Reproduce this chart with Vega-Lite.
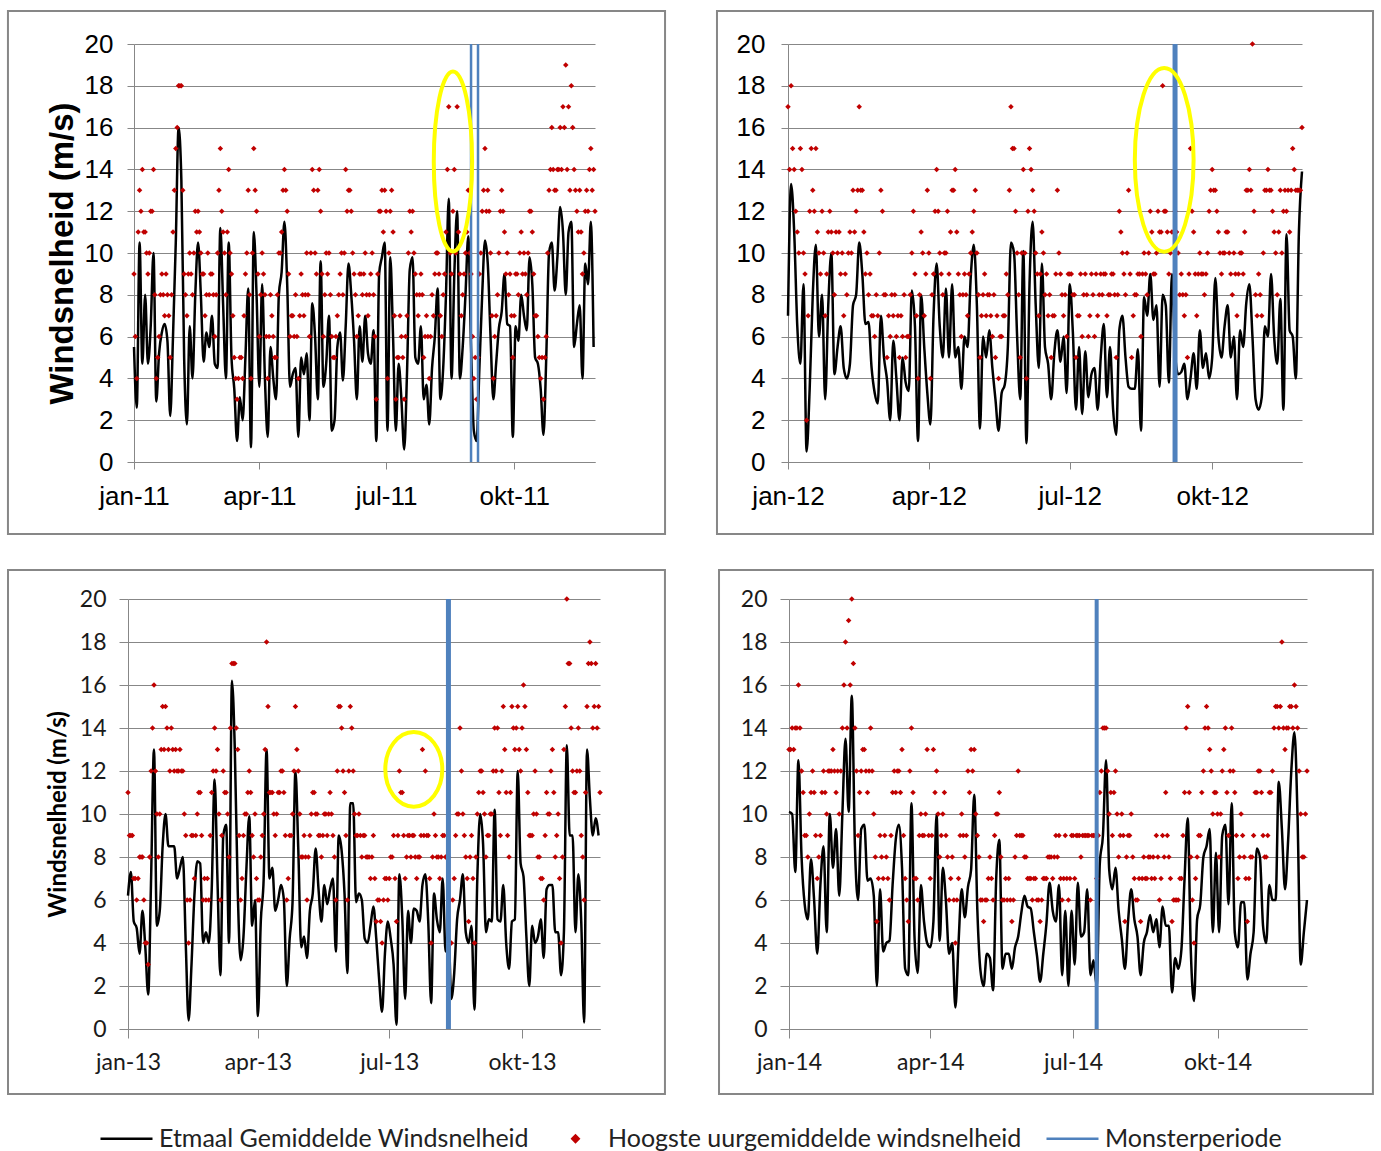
{
"$schema":"https://vega.github.io/schema/vega-lite/v6.json",
"background":"white",
"padding":{"left":6,"top":9,"right":8,"bottom":2},
"bounds":"flush",
"columns":2,
"spacing":{"row":137,"column":188},
"resolve":{"scale":{"color":"shared"},"legend":{"color":"shared"}},
"config":{"view":{"stroke":null},"axis":{"domainColor":"#878787","tickColor":"#878787","gridColor":"#878787","gridWidth":1,"domainWidth":1,"tickWidth":1},"legend":{"layout":{"bottom":{"anchor":"middle"}}}},
"datasets":{
"y2011":[
{"d":"2011-01-01","w":5.5,"h":9},{"d":"2011-01-03","w":2.6,"h":4},{"d":"2011-01-05","w":10.5,"h":13},{"d":"2011-01-07","w":4.7,"h":14},{"d":"2011-01-09","w":8,"h":11},{"d":"2011-01-11","w":4.7,"h":9},{"d":"2011-01-13","w":6.5,"h":12},{"d":"2011-01-15","w":10,"h":14},{"d":"2011-01-17","w":2.9,"h":4},{"d":"2011-01-19","w":5.2,"h":6},{"d":"2011-01-21","w":6.2,"h":9},{"d":"2011-01-23","w":6.6,"h":7},{"d":"2011-01-25","w":5.8,"h":8},{"d":"2011-01-27","w":2.2,"h":5},{"d":"2011-01-29","w":6,"h":11},{"d":"2011-01-31","w":10.5,"h":15},
{"d":"2011-02-02","w":16,"h":18},{"d":"2011-02-04","w":13.5,"h":18},{"d":"2011-02-06","w":5,"h":9},{"d":"2011-02-08","w":1.8,"h":7},{"d":"2011-02-10","w":6.5,"h":10},{"d":"2011-02-12","w":4,"h":8},{"d":"2011-02-14","w":8,"h":12},{"d":"2011-02-16","w":10.5,"h":12},{"d":"2011-02-18","w":8,"h":10},{"d":"2011-02-20","w":4.8,"h":9},{"d":"2011-02-22","w":6.2,"h":8},{"d":"2011-02-24","w":5.5,"h":8},{"d":"2011-02-26","w":7,"h":9},{"d":"2011-02-28","w":4.7,"h":6},
{"d":"2011-03-02","w":4.5,"h":10},{"d":"2011-03-04","w":11.2,"h":15},{"d":"2011-03-06","w":7.5,"h":11},{"d":"2011-03-08","w":4,"h":8},{"d":"2011-03-10","w":10.5,"h":14},{"d":"2011-03-12","w":5,"h":9},{"d":"2011-03-14","w":3.5,"h":5},{"d":"2011-03-16","w":1,"h":3},{"d":"2011-03-18","w":3.1,"h":5},{"d":"2011-03-20","w":2,"h":4},{"d":"2011-03-22","w":5,"h":9},{"d":"2011-03-24","w":8.3,"h":13},{"d":"2011-03-26","w":0.7,"h":4},{"d":"2011-03-28","w":11,"h":15},{"d":"2011-03-30","w":8,"h":12},
{"d":"2011-04-01","w":3.6,"h":6},{"d":"2011-04-03","w":8.5,"h":10},{"d":"2011-04-05","w":4,"h":8},{"d":"2011-04-07","w":1.2,"h":4},{"d":"2011-04-09","w":5.5,"h":8},{"d":"2011-04-11","w":4,"h":6},{"d":"2011-04-13","w":3,"h":5},{"d":"2011-04-15","w":8,"h":10},{"d":"2011-04-17","w":9.1,"h":11},{"d":"2011-04-19","w":11.5,"h":14},{"d":"2011-04-21","w":8.5,"h":12},{"d":"2011-04-23","w":3.6,"h":6},{"d":"2011-04-25","w":4.2,"h":7},{"d":"2011-04-27","w":4.5,"h":8},{"d":"2011-04-29","w":1.2,"h":4},
{"d":"2011-05-01","w":5,"h":9},{"d":"2011-05-03","w":4.2,"h":7},{"d":"2011-05-05","w":5.2,"h":10},{"d":"2011-05-07","w":2,"h":6},{"d":"2011-05-09","w":7.6,"h":14},{"d":"2011-05-11","w":6,"h":10},{"d":"2011-05-13","w":3,"h":13},{"d":"2011-05-15","w":9.6,"h":12},{"d":"2011-05-17","w":3.6,"h":6},{"d":"2011-05-19","w":4.7,"h":10},{"d":"2011-05-21","w":7,"h":10},{"d":"2011-05-23","w":1.5,"h":6},{"d":"2011-05-25","w":2,"h":5},{"d":"2011-05-27","w":5.5,"h":7},{"d":"2011-05-29","w":6.2,"h":9},{"d":"2011-05-31","w":3.9,"h":8},
{"d":"2011-06-02","w":6.5,"h":14},{"d":"2011-06-04","w":9.5,"h":13},{"d":"2011-06-06","w":8,"h":12},{"d":"2011-06-08","w":5.8,"h":9},{"d":"2011-06-10","w":3,"h":6},{"d":"2011-06-12","w":6.5,"h":9},{"d":"2011-06-14","w":4.8,"h":8},{"d":"2011-06-16","w":7,"h":10},{"d":"2011-06-18","w":5.2,"h":7},{"d":"2011-06-20","w":4.7,"h":9},{"d":"2011-06-22","w":6.3,"h":8},{"d":"2011-06-24","w":1,"h":3},{"d":"2011-06-26","w":9,"h":12},{"d":"2011-06-28","w":9.8,"h":13},{"d":"2011-06-30","w":10.5,"h":13},
{"d":"2011-07-02","w":1.5,"h":4},{"d":"2011-07-04","w":9.8,"h":12},{"d":"2011-07-06","w":6,"h":11},{"d":"2011-07-08","w":1.5,"h":3},{"d":"2011-07-10","w":4.7,"h":5},{"d":"2011-07-12","w":3,"h":6},{"d":"2011-07-14","w":0.6,"h":3},{"d":"2011-07-16","w":4.2,"h":7},{"d":"2011-07-18","w":9.2,"h":12},{"d":"2011-07-20","w":9.8,"h":12},{"d":"2011-07-22","w":5,"h":9},{"d":"2011-07-24","w":4.7,"h":7},{"d":"2011-07-26","w":6.5,"h":9},{"d":"2011-07-28","w":3,"h":5},{"d":"2011-07-30","w":3.7,"h":7},
{"d":"2011-08-01","w":1.8,"h":4},{"d":"2011-08-03","w":4.5,"h":8},{"d":"2011-08-05","w":6,"h":9},{"d":"2011-08-07","w":8.3,"h":10},{"d":"2011-08-09","w":3,"h":7},{"d":"2011-08-11","w":4.5,"h":8},{"d":"2011-08-13","w":8,"h":11},{"d":"2011-08-15","w":12.6,"h":17},{"d":"2011-08-17","w":4,"h":9},{"d":"2011-08-19","w":9,"h":14},{"d":"2011-08-21","w":12,"h":17},{"d":"2011-08-23","w":4,"h":9},{"d":"2011-08-25","w":5.5,"h":8},{"d":"2011-08-27","w":8,"h":10},{"d":"2011-08-29","w":10.8,"h":13},{"d":"2011-08-31","w":5.5,"h":9},
{"d":"2011-09-02","w":1.5,"h":4},{"d":"2011-09-04","w":1,"h":3},{"d":"2011-09-06","w":4.5,"h":9},{"d":"2011-09-08","w":8,"h":12},{"d":"2011-09-10","w":10.6,"h":15},{"d":"2011-09-12","w":9.5,"h":13},{"d":"2011-09-14","w":6,"h":10},{"d":"2011-09-16","w":3,"h":4},{"d":"2011-09-18","w":4.7,"h":7},{"d":"2011-09-20","w":6.4,"h":10},{"d":"2011-09-22","w":7.2,"h":13},{"d":"2011-09-24","w":9,"h":11},{"d":"2011-09-26","w":6.6,"h":10},{"d":"2011-09-28","w":6.5,"h":9},{"d":"2011-09-30","w":1.2,"h":5},
{"d":"2011-10-02","w":6.5,"h":9},{"d":"2011-10-04","w":5.8,"h":8},{"d":"2011-10-06","w":8,"h":11},{"d":"2011-10-08","w":7,"h":10},{"d":"2011-10-10","w":6.3,"h":8},{"d":"2011-10-12","w":9.8,"h":12},{"d":"2011-10-14","w":8.5,"h":11},{"d":"2011-10-16","w":5,"h":7},{"d":"2011-10-18","w":4.7,"h":6},{"d":"2011-10-20","w":3.5,"h":4},{"d":"2011-10-22","w":1.3,"h":3},{"d":"2011-10-24","w":5,"h":6},{"d":"2011-10-26","w":10,"h":13},{"d":"2011-10-28","w":10.5,"h":16},{"d":"2011-10-30","w":8.2,"h":13},
{"d":"2011-11-01","w":9.8,"h":14},{"d":"2011-11-03","w":12.2,"h":16},{"d":"2011-11-05","w":11,"h":17},{"d":"2011-11-07","w":8,"h":19},{"d":"2011-11-09","w":11,"h":17},{"d":"2011-11-11","w":11.5,"h":18},{"d":"2011-11-13","w":5.5,"h":14},{"d":"2011-11-15","w":6.6,"h":12},{"d":"2011-11-17","w":7.5,"h":13},{"d":"2011-11-19","w":4,"h":9},{"d":"2011-11-21","w":9.5,"h":12},{"d":"2011-11-23","w":8.5,"h":12},{"d":"2011-11-25","w":11.5,"h":15},{"d":"2011-11-27","w":5.5,"h":14}
],
"x2011":[
{"d":"2011-01-02","h":6},{"d":"2011-01-04","h":11},{"d":"2011-01-06","h":12},{"d":"2011-01-08","h":11},{"d":"2011-01-10","h":10},{"d":"2011-01-12","h":10},{"d":"2011-01-14","h":12},{"d":"2011-01-16","h":8},{"d":"2011-01-18","h":5},{"d":"2011-01-20","h":8},{"d":"2011-01-22","h":8},{"d":"2011-01-24","h":9},{"d":"2011-01-26","h":7},{"d":"2011-01-28","h":8},{"d":"2011-01-30","h":13},
{"d":"2011-02-01","h":16},{"d":"2011-02-03","h":18},{"d":"2011-02-05","h":13},{"d":"2011-02-07","h":8},{"d":"2011-02-09","h":9},{"d":"2011-02-11","h":9},{"d":"2011-02-13","h":10},{"d":"2011-02-15","h":11},{"d":"2011-02-17","h":11},{"d":"2011-02-19","h":9},{"d":"2011-02-21","h":7},{"d":"2011-02-23","h":10},{"d":"2011-02-25","h":9},{"d":"2011-02-27","h":8},
{"d":"2011-03-01","h":8},{"d":"2011-03-03","h":13},{"d":"2011-03-05","h":12},{"d":"2011-03-07","h":10},{"d":"2011-03-09","h":11},{"d":"2011-03-11","h":10},{"d":"2011-03-13","h":7},{"d":"2011-03-15","h":4},{"d":"2011-03-17","h":4},{"d":"2011-03-19","h":5},{"d":"2011-03-21","h":7},{"d":"2011-03-23","h":10},{"d":"2011-03-25","h":8},{"d":"2011-03-27","h":10},{"d":"2011-03-29","h":13},{"d":"2011-03-31","h":9},
{"d":"2011-04-02","h":8},{"d":"2011-04-04","h":9},{"d":"2011-04-06","h":6},{"d":"2011-04-08","h":6},{"d":"2011-04-10","h":7},{"d":"2011-04-12","h":5},{"d":"2011-04-14","h":8},{"d":"2011-04-16","h":10},{"d":"2011-04-18","h":13},{"d":"2011-04-20","h":13},{"d":"2011-04-22","h":9},{"d":"2011-04-24","h":7},{"d":"2011-04-26","h":6},{"d":"2011-04-28","h":6},{"d":"2011-04-30","h":7},
{"d":"2011-05-02","h":8},{"d":"2011-05-04","h":8},{"d":"2011-05-06","h":8},{"d":"2011-05-08","h":10},{"d":"2011-05-10","h":13},{"d":"2011-05-12","h":9},{"d":"2011-05-14","h":14},{"d":"2011-05-16","h":9},{"d":"2011-05-18","h":8},{"d":"2011-05-20","h":9},{"d":"2011-05-22","h":8},{"d":"2011-05-24","h":5},{"d":"2011-05-26","h":6},{"d":"2011-05-28","h":8},{"d":"2011-05-30","h":10},
{"d":"2011-06-01","h":10},{"d":"2011-06-03","h":12},{"d":"2011-06-05","h":13},{"d":"2011-06-07","h":10},{"d":"2011-06-09","h":8},{"d":"2011-06-11","h":7},{"d":"2011-06-13","h":9},{"d":"2011-06-15","h":9},{"d":"2011-06-17","h":8},{"d":"2011-06-19","h":8},{"d":"2011-06-21","h":10},{"d":"2011-06-23","h":6},{"d":"2011-06-25","h":9},{"d":"2011-06-27","h":12},{"d":"2011-06-29","h":11},
{"d":"2011-07-01","h":12},{"d":"2011-07-03","h":10},{"d":"2011-07-05","h":13},{"d":"2011-07-07","h":7},{"d":"2011-07-09","h":5},{"d":"2011-07-11","h":7},{"d":"2011-07-13","h":5},{"d":"2011-07-15","h":6},{"d":"2011-07-17","h":10},{"d":"2011-07-19","h":11},{"d":"2011-07-21","h":10},{"d":"2011-07-23","h":8},{"d":"2011-07-25","h":8},{"d":"2011-07-27","h":8},{"d":"2011-07-29","h":6},{"d":"2011-07-31","h":6},
{"d":"2011-08-02","h":6},{"d":"2011-08-04","h":7},{"d":"2011-08-06","h":10},{"d":"2011-08-08","h":9},{"d":"2011-08-10","h":6},{"d":"2011-08-12","h":9},{"d":"2011-08-14","h":14},{"d":"2011-08-16","h":10},{"d":"2011-08-18","h":12},{"d":"2011-08-20","h":10},{"d":"2011-08-22","h":11},{"d":"2011-08-24","h":7},{"d":"2011-08-26","h":9},{"d":"2011-08-28","h":11},{"d":"2011-08-30","h":10},
{"d":"2011-09-01","h":6},{"d":"2011-09-03","h":5},{"d":"2011-09-05","h":5},{"d":"2011-09-07","h":10},{"d":"2011-09-09","h":13},{"d":"2011-09-11","h":12},{"d":"2011-09-13","h":12},{"d":"2011-09-15","h":7},{"d":"2011-09-17","h":6},{"d":"2011-09-19","h":8},{"d":"2011-09-21","h":12},{"d":"2011-09-23","h":12},{"d":"2011-09-25","h":9},{"d":"2011-09-27","h":8},{"d":"2011-09-29","h":7},
{"d":"2011-10-01","h":7},{"d":"2011-10-03","h":9},{"d":"2011-10-05","h":10},{"d":"2011-10-07","h":9},{"d":"2011-10-09","h":9},{"d":"2011-10-11","h":10},{"d":"2011-10-13","h":12},{"d":"2011-10-15","h":9},{"d":"2011-10-17","h":7},{"d":"2011-10-19","h":5},{"d":"2011-10-21","h":5},{"d":"2011-10-23","h":5},{"d":"2011-10-25","h":10},{"d":"2011-10-27","h":14},{"d":"2011-10-29","h":14},{"d":"2011-10-31","h":13},
{"d":"2011-11-02","h":14},{"d":"2011-11-04","h":14},{"d":"2011-11-06","h":16},{"d":"2011-11-08","h":14},{"d":"2011-11-10","h":13},{"d":"2011-11-12","h":16},{"d":"2011-11-14","h":13},{"d":"2011-11-16","h":11},{"d":"2011-11-18","h":11},{"d":"2011-11-20","h":10},{"d":"2011-11-22","h":13},{"d":"2011-11-24","h":14},{"d":"2011-11-26","h":13},{"d":"2011-11-28","h":12}
],
"y2012":[
{"d":"2012-01-01","w":7,"h":17},{"d":"2012-01-03","w":13.3,"h":18},{"d":"2012-01-05","w":11,"h":14},{"d":"2012-01-07","w":6.5,"h":11},{"d":"2012-01-09","w":4.7,"h":15},{"d":"2012-01-11","w":8.5,"h":10},{"d":"2012-01-13","w":0.5,"h":2},{"d":"2012-01-15","w":3.5,"h":12},{"d":"2012-01-17","w":8,"h":13},{"d":"2012-01-19","w":10.4,"h":15},{"d":"2012-01-21","w":6,"h":10},{"d":"2012-01-23","w":8,"h":12},{"d":"2012-01-25","w":3,"h":7},{"d":"2012-01-27","w":7.5,"h":11},{"d":"2012-01-29","w":10,"h":11},{"d":"2012-01-31","w":4.2,"h":8},
{"d":"2012-02-02","w":5.5,"h":10},{"d":"2012-02-04","w":6.5,"h":9},{"d":"2012-02-06","w":4.5,"h":7},{"d":"2012-02-08","w":4,"h":8},{"d":"2012-02-10","w":4.7,"h":11},{"d":"2012-02-12","w":7.5,"h":13},{"d":"2012-02-14","w":8,"h":12},{"d":"2012-02-16","w":10.5,"h":17},{"d":"2012-02-18","w":9,"h":13},{"d":"2012-02-20","w":6.6,"h":9},{"d":"2012-02-22","w":6.7,"h":8},{"d":"2012-02-24","w":4.5,"h":7},{"d":"2012-02-26","w":3.3,"h":6},{"d":"2012-02-28","w":2.8,"h":7},
{"d":"2012-03-01","w":7,"h":13},{"d":"2012-03-03","w":5,"h":8},{"d":"2012-03-05","w":3.9,"h":5},{"d":"2012-03-07","w":2,"h":6},{"d":"2012-03-09","w":5.8,"h":7},{"d":"2012-03-11","w":4,"h":6},{"d":"2012-03-13","w":2,"h":5},{"d":"2012-03-15","w":5,"h":6},{"d":"2012-03-17","w":3.8,"h":5},{"d":"2012-03-19","w":3.4,"h":6},{"d":"2012-03-21","w":8.2,"h":10},{"d":"2012-03-23","w":6.5,"h":9},{"d":"2012-03-25","w":1,"h":4},{"d":"2012-03-27","w":8,"h":11},{"d":"2012-03-29","w":5.5,"h":7},{"d":"2012-03-31","w":3.3,"h":13},
{"d":"2012-04-02","w":1.8,"h":4},{"d":"2012-04-04","w":7,"h":9},{"d":"2012-04-06","w":9.5,"h":14},{"d":"2012-04-08","w":6.5,"h":10},{"d":"2012-04-10","w":5,"h":8},{"d":"2012-04-12","w":8.3,"h":10},{"d":"2012-04-14","w":5,"h":9},{"d":"2012-04-16","w":8.5,"h":13},{"d":"2012-04-18","w":5,"h":14},{"d":"2012-04-20","w":5.5,"h":9},{"d":"2012-04-22","w":3.5,"h":6},{"d":"2012-04-24","w":6,"h":9},{"d":"2012-04-26","w":5.5,"h":7},{"d":"2012-04-28","w":8.8,"h":10},{"d":"2012-04-30","w":10.4,"h":12},
{"d":"2012-05-02","w":7.5,"h":10},{"d":"2012-05-04","w":1.6,"h":5},{"d":"2012-05-06","w":6,"h":8},{"d":"2012-05-08","w":5,"h":7},{"d":"2012-05-10","w":6.3,"h":8},{"d":"2012-05-12","w":4.5,"h":6},{"d":"2012-05-14","w":3,"h":5},{"d":"2012-05-16","w":1.5,"h":4},{"d":"2012-05-18","w":3.3,"h":6},{"d":"2012-05-20","w":3.7,"h":7},{"d":"2012-05-22","w":5.5,"h":8},{"d":"2012-05-24","w":10.5,"h":17},{"d":"2012-05-26","w":10,"h":15},{"d":"2012-05-28","w":6,"h":10},{"d":"2012-05-30","w":3,"h":5},
{"d":"2012-06-01","w":10.1,"h":14},{"d":"2012-06-03","w":0.9,"h":4},{"d":"2012-06-05","w":8.5,"h":15},{"d":"2012-06-07","w":11.5,"h":13},{"d":"2012-06-09","w":7.5,"h":10},{"d":"2012-06-11","w":4.5,"h":7},{"d":"2012-06-13","w":9.5,"h":11},{"d":"2012-06-15","w":5.5,"h":8},{"d":"2012-06-17","w":4.7,"h":7},{"d":"2012-06-19","w":3,"h":5},{"d":"2012-06-21","w":5.2,"h":7},{"d":"2012-06-23","w":6.3,"h":13},{"d":"2012-06-25","w":4.8,"h":9},{"d":"2012-06-27","w":6,"h":7},{"d":"2012-06-29","w":3.3,"h":6},
{"d":"2012-07-01","w":8.5,"h":9},{"d":"2012-07-03","w":6.2,"h":8},{"d":"2012-07-05","w":2.5,"h":5},{"d":"2012-07-07","w":5.5,"h":7},{"d":"2012-07-09","w":2.3,"h":6},{"d":"2012-07-11","w":5.3,"h":9},{"d":"2012-07-13","w":3.1,"h":6},{"d":"2012-07-15","w":4.2,"h":9},{"d":"2012-07-17","w":4.5,"h":6},{"d":"2012-07-19","w":2.5,"h":7},{"d":"2012-07-21","w":5,"h":9},{"d":"2012-07-23","w":6.6,"h":9},{"d":"2012-07-25","w":3.1,"h":7},{"d":"2012-07-27","w":5.5,"h":8},{"d":"2012-07-29","w":2.5,"h":9},{"d":"2012-07-31","w":1.3,"h":5},
{"d":"2012-08-02","w":6.3,"h":12},{"d":"2012-08-04","w":7,"h":10},{"d":"2012-08-06","w":5,"h":8},{"d":"2012-08-08","w":3.6,"h":13},{"d":"2012-08-10","w":3.5,"h":5},{"d":"2012-08-12","w":3.5,"h":8},{"d":"2012-08-14","w":5.4,"h":9},{"d":"2012-08-16","w":1.5,"h":6},{"d":"2012-08-18","w":7.9,"h":10},{"d":"2012-08-20","w":7,"h":8},{"d":"2012-08-22","w":9,"h":12},{"d":"2012-08-24","w":6.8,"h":9},{"d":"2012-08-26","w":7.5,"h":10},{"d":"2012-08-28","w":3.6,"h":11},{"d":"2012-08-30","w":8,"h":18},
{"d":"2012-09-01","w":7.5,"h":12},{"d":"2012-09-03","w":3.8,"h":9},{"d":"2012-09-05","w":9,"h":11},{"d":"2012-09-07","w":5.2,"h":12},{"d":"2012-09-09","w":4.2,"h":10},{"d":"2012-09-11","w":4.3,"h":9},{"d":"2012-09-13","w":4.7,"h":7},{"d":"2012-09-15","w":3,"h":5},{"d":"2012-09-17","w":4,"h":15},{"d":"2012-09-19","w":5.2,"h":11},{"d":"2012-09-21","w":3.5,"h":7},{"d":"2012-09-23","w":6.3,"h":10},{"d":"2012-09-25","w":4.5,"h":9},{"d":"2012-09-27","w":5.2,"h":9},{"d":"2012-09-29","w":4,"h":12},
{"d":"2012-10-01","w":5,"h":14},{"d":"2012-10-03","w":8.8,"h":13},{"d":"2012-10-05","w":6,"h":11},{"d":"2012-10-07","w":5,"h":9},{"d":"2012-10-09","w":6.5,"h":10},{"d":"2012-10-11","w":7.5,"h":11},{"d":"2012-10-13","w":5,"h":9},{"d":"2012-10-15","w":6,"h":10},{"d":"2012-10-17","w":3,"h":7},{"d":"2012-10-19","w":6.3,"h":10},{"d":"2012-10-21","w":5.5,"h":9},{"d":"2012-10-23","w":7.6,"h":13},{"d":"2012-10-25","w":8.5,"h":14},{"d":"2012-10-27","w":6,"h":20},{"d":"2012-10-29","w":3,"h":8},{"d":"2012-10-31","w":2.5,"h":9},
{"d":"2012-11-02","w":3.1,"h":7},{"d":"2012-11-04","w":6.5,"h":13},{"d":"2012-11-06","w":6,"h":14},{"d":"2012-11-08","w":9,"h":13},{"d":"2012-11-10","w":6,"h":11},{"d":"2012-11-12","w":4.7,"h":8},{"d":"2012-11-14","w":7.8,"h":13},{"d":"2012-11-16","w":2.5,"h":12},{"d":"2012-11-18","w":10.9,"h":12},{"d":"2012-11-20","w":6.3,"h":11},{"d":"2012-11-22","w":6,"h":15},{"d":"2012-11-24","w":4,"h":13},{"d":"2012-11-26","w":11,"h":13},{"d":"2012-11-28","w":13.9,"h":16}
],
"x2012":[
{"d":"2012-01-02","h":14},{"d":"2012-01-04","h":15},{"d":"2012-01-06","h":12},{"d":"2012-01-08","h":10},{"d":"2012-01-10","h":14},{"d":"2012-01-12","h":9},{"d":"2012-01-14","h":7},{"d":"2012-01-16","h":15},{"d":"2012-01-18","h":12},{"d":"2012-01-20","h":11},{"d":"2012-01-22","h":9},{"d":"2012-01-24","h":10},{"d":"2012-01-26","h":9},{"d":"2012-01-28","h":12},{"d":"2012-01-30","h":10},
{"d":"2012-02-01","h":11},{"d":"2012-02-03","h":11},{"d":"2012-02-05","h":10},{"d":"2012-02-07","h":9},{"d":"2012-02-09","h":10},{"d":"2012-02-11","h":10},{"d":"2012-02-13","h":11},{"d":"2012-02-15","h":13},{"d":"2012-02-17","h":13},{"d":"2012-02-19","h":11},{"d":"2012-02-21","h":10},{"d":"2012-02-23","h":9},{"d":"2012-02-25","h":7},{"d":"2012-02-27","h":8},{"d":"2012-02-29","h":10},
{"d":"2012-03-02","h":12},{"d":"2012-03-04","h":8},{"d":"2012-03-06","h":7},{"d":"2012-03-08","h":8},{"d":"2012-03-10","h":8},{"d":"2012-03-12","h":7},{"d":"2012-03-14","h":7},{"d":"2012-03-16","h":8},{"d":"2012-03-18","h":6},{"d":"2012-03-20","h":8},{"d":"2012-03-22","h":12},{"d":"2012-03-24","h":7},{"d":"2012-03-26","h":8},{"d":"2012-03-28","h":10},{"d":"2012-03-30","h":9},
{"d":"2012-04-01","h":10},{"d":"2012-04-03","h":8},{"d":"2012-04-05","h":12},{"d":"2012-04-07","h":12},{"d":"2012-04-09","h":9},{"d":"2012-04-11","h":10},{"d":"2012-04-13","h":12},{"d":"2012-04-15","h":11},{"d":"2012-04-17","h":13},{"d":"2012-04-19","h":11},{"d":"2012-04-21","h":8},{"d":"2012-04-23","h":8},{"d":"2012-04-25","h":8},{"d":"2012-04-27","h":9},{"d":"2012-04-29","h":11},
{"d":"2012-05-01","h":13},{"d":"2012-05-03","h":8},{"d":"2012-05-05","h":7},{"d":"2012-05-07","h":9},{"d":"2012-05-09","h":8},{"d":"2012-05-11","h":7},{"d":"2012-05-13","h":8},{"d":"2012-05-15","h":7},{"d":"2012-05-17","h":6},{"d":"2012-05-19","h":7},{"d":"2012-05-21","h":9},{"d":"2012-05-23","h":13},{"d":"2012-05-25","h":15},{"d":"2012-05-27","h":12},{"d":"2012-05-29","h":8},{"d":"2012-05-31","h":10},
{"d":"2012-06-02","h":10},{"d":"2012-06-04","h":12},{"d":"2012-06-06","h":14},{"d":"2012-06-08","h":12},{"d":"2012-06-10","h":9},{"d":"2012-06-12","h":9},{"d":"2012-06-14","h":10},{"d":"2012-06-16","h":9},{"d":"2012-06-18","h":8},{"d":"2012-06-20","h":7},{"d":"2012-06-22","h":9},{"d":"2012-06-24","h":10},{"d":"2012-06-26","h":8},{"d":"2012-06-28","h":8},{"d":"2012-06-30","h":9},
{"d":"2012-07-02","h":9},{"d":"2012-07-04","h":8},{"d":"2012-07-06","h":7},{"d":"2012-07-08","h":9},{"d":"2012-07-10","h":8},{"d":"2012-07-12","h":8},{"d":"2012-07-14","h":7},{"d":"2012-07-16","h":8},{"d":"2012-07-18","h":9},{"d":"2012-07-20","h":8},{"d":"2012-07-22","h":8},{"d":"2012-07-24","h":9},{"d":"2012-07-26","h":8},{"d":"2012-07-28","h":9},{"d":"2012-07-30","h":8},
{"d":"2012-08-01","h":8},{"d":"2012-08-03","h":11},{"d":"2012-08-05","h":9},{"d":"2012-08-07","h":10},{"d":"2012-08-09","h":9},{"d":"2012-08-11","h":7},{"d":"2012-08-13","h":8},{"d":"2012-08-15","h":9},{"d":"2012-08-17","h":9},{"d":"2012-08-19","h":9},{"d":"2012-08-21","h":10},{"d":"2012-08-23","h":11},{"d":"2012-08-25","h":9},{"d":"2012-08-27","h":12},{"d":"2012-08-29","h":11},{"d":"2012-08-31","h":12},
{"d":"2012-09-02","h":11},{"d":"2012-09-04","h":10},{"d":"2012-09-06","h":11},{"d":"2012-09-08","h":11},{"d":"2012-09-10","h":8},{"d":"2012-09-12","h":8},{"d":"2012-09-14","h":8},{"d":"2012-09-16","h":9},{"d":"2012-09-18","h":12},{"d":"2012-09-20","h":9},{"d":"2012-09-22","h":9},{"d":"2012-09-24","h":9},{"d":"2012-09-26","h":8},{"d":"2012-09-28","h":10},{"d":"2012-09-30","h":13},
{"d":"2012-10-02","h":13},{"d":"2012-10-04","h":12},{"d":"2012-10-06","h":10},{"d":"2012-10-08","h":10},{"d":"2012-10-10","h":11},{"d":"2012-10-12","h":10},{"d":"2012-10-14","h":8},{"d":"2012-10-16","h":9},{"d":"2012-10-18","h":9},{"d":"2012-10-20","h":10},{"d":"2012-10-22","h":11},{"d":"2012-10-24","h":13},{"d":"2012-10-26","h":13},{"d":"2012-10-28","h":12},{"d":"2012-10-30","h":7},
{"d":"2012-11-01","h":8},{"d":"2012-11-03","h":10},{"d":"2012-11-05","h":13},{"d":"2012-11-07","h":13},{"d":"2012-11-09","h":12},{"d":"2012-11-11","h":10},{"d":"2012-11-13","h":11},{"d":"2012-11-15","h":10},{"d":"2012-11-17","h":13},{"d":"2012-11-19","h":13},{"d":"2012-11-21","h":13},{"d":"2012-11-23","h":14},{"d":"2012-11-25","h":13},{"d":"2012-11-27","h":13}
],
"y2013":[
{"d":"2013-01-01","w":6.2,"h":11},{"d":"2013-01-03","w":7.3,"h":9},{"d":"2013-01-05","w":5,"h":7},{"d":"2013-01-07","w":4.7,"h":6},{"d":"2013-01-09","w":3.5,"h":8},{"d":"2013-01-11","w":5.5,"h":8},{"d":"2013-01-13","w":3.8,"h":4},{"d":"2013-01-15","w":1.6,"h":3},{"d":"2013-01-17","w":7,"h":12},{"d":"2013-01-19","w":13,"h":16},{"d":"2013-01-21","w":4.8,"h":10},{"d":"2013-01-23","w":5.5,"h":10},{"d":"2013-01-25","w":8.5,"h":15},{"d":"2013-01-27","w":10,"h":15},{"d":"2013-01-29","w":8.5,"h":13},{"d":"2013-01-31","w":8.5,"h":14},
{"d":"2013-02-02","w":8.5,"h":12},{"d":"2013-02-04","w":7,"h":12},{"d":"2013-02-06","w":7.5,"h":13},{"d":"2013-02-08","w":8,"h":12},{"d":"2013-02-10","w":4,"h":9},{"d":"2013-02-12","w":0.4,"h":4},{"d":"2013-02-14","w":3,"h":9},{"d":"2013-02-16","w":6.2,"h":7},{"d":"2013-02-18","w":7.8,"h":10},{"d":"2013-02-20","w":7.7,"h":11},{"d":"2013-02-22","w":4,"h":6},{"d":"2013-02-24","w":4.5,"h":6},{"d":"2013-02-26","w":4,"h":6},{"d":"2013-02-28","w":6.5,"h":11},
{"d":"2013-03-02","w":11.6,"h":14},{"d":"2013-03-04","w":6.9,"h":13},{"d":"2013-03-06","w":2.5,"h":6},{"d":"2013-03-08","w":9,"h":12},{"d":"2013-03-10","w":9.5,"h":11},{"d":"2013-03-12","w":4,"h":8},{"d":"2013-03-14","w":16.2,"h":17},{"d":"2013-03-16","w":13,"h":17},{"d":"2013-03-18","w":6.5,"h":13},{"d":"2013-03-20","w":3.2,"h":6},{"d":"2013-03-22","w":4.3,"h":9},{"d":"2013-03-24","w":7.4,"h":10},{"d":"2013-03-26","w":9.9,"h":12},{"d":"2013-03-28","w":4.8,"h":9},{"d":"2013-03-30","w":6,"h":10},
{"d":"2013-04-01","w":0.6,"h":6},{"d":"2013-04-03","w":5,"h":8},{"d":"2013-04-05","w":7,"h":10},{"d":"2013-04-07","w":13,"h":18},{"d":"2013-04-09","w":7,"h":11},{"d":"2013-04-11","w":7.5,"h":11},{"d":"2013-04-13","w":5.5,"h":9},{"d":"2013-04-15","w":6,"h":11},{"d":"2013-04-17","w":6.7,"h":12},{"d":"2013-04-19","w":6,"h":11},{"d":"2013-04-21","w":2,"h":6},{"d":"2013-04-23","w":4.2,"h":9},{"d":"2013-04-25","w":5.9,"h":10},{"d":"2013-04-27","w":12,"h":15},{"d":"2013-04-29","w":8.3,"h":12},
{"d":"2013-05-01","w":3.8,"h":8},{"d":"2013-05-03","w":4.3,"h":9},{"d":"2013-05-05","w":3.3,"h":6},{"d":"2013-05-07","w":5.5,"h":9},{"d":"2013-05-09","w":6.3,"h":11},{"d":"2013-05-11","w":8.4,"h":10},{"d":"2013-05-13","w":6.5,"h":9},{"d":"2013-05-15","w":5,"h":8},{"d":"2013-05-17","w":6.7,"h":10},{"d":"2013-05-19","w":5.8,"h":9},{"d":"2013-05-21","w":6.5,"h":11},{"d":"2013-05-23","w":7,"h":9},{"d":"2013-05-25","w":3.6,"h":6},{"d":"2013-05-27","w":9,"h":15},{"d":"2013-05-29","w":8.3,"h":14},{"d":"2013-05-31","w":6.3,"h":11},
{"d":"2013-06-02","w":2.6,"h":6},{"d":"2013-06-04","w":10.5,"h":15},{"d":"2013-06-06","w":10.5,"h":12},{"d":"2013-06-08","w":5.9,"h":9},{"d":"2013-06-10","w":6.3,"h":10},{"d":"2013-06-12","w":6,"h":8},{"d":"2013-06-14","w":4.2,"h":9},{"d":"2013-06-16","w":4,"h":8},{"d":"2013-06-18","w":4.8,"h":7},{"d":"2013-06-20","w":5.7,"h":9},{"d":"2013-06-22","w":4.2,"h":5},{"d":"2013-06-24","w":2.3,"h":6},{"d":"2013-06-26","w":0.8,"h":4},{"d":"2013-06-28","w":3.5,"h":7},{"d":"2013-06-30","w":5,"h":6},
{"d":"2013-07-02","w":4.2,"h":8},{"d":"2013-07-04","w":3,"h":9},{"d":"2013-07-06","w":0.2,"h":5},{"d":"2013-07-08","w":7.2,"h":12},{"d":"2013-07-10","w":5.2,"h":11},{"d":"2013-07-12","w":1.4,"h":7},{"d":"2013-07-14","w":5.5,"h":9},{"d":"2013-07-16","w":4,"h":8},{"d":"2013-07-18","w":5.6,"h":9},{"d":"2013-07-20","w":5.5,"h":7},{"d":"2013-07-22","w":5,"h":8},{"d":"2013-07-24","w":6.7,"h":13},{"d":"2013-07-26","w":7.2,"h":12},{"d":"2013-07-28","w":5,"h":9},{"d":"2013-07-30","w":1.2,"h":4},
{"d":"2013-08-01","w":6.3,"h":10},{"d":"2013-08-03","w":5.1,"h":8},{"d":"2013-08-05","w":4.5,"h":7},{"d":"2013-08-07","w":7,"h":9},{"d":"2013-08-09","w":3.6,"h":8},{"d":"2013-08-11","w":4.5,"h":8},{"d":"2013-08-13","w":1.4,"h":4},{"d":"2013-08-15","w":2.6,"h":7},{"d":"2013-08-17","w":5.1,"h":10},{"d":"2013-08-19","w":6,"h":14},{"d":"2013-08-21","w":7.2,"h":10},{"d":"2013-08-23","w":4.5,"h":8},{"d":"2013-08-25","w":4,"h":5},{"d":"2013-08-27","w":4.8,"h":9},{"d":"2013-08-29","w":0.9,"h":4},{"d":"2013-08-31","w":7,"h":10},
{"d":"2013-09-02","w":10,"h":12},{"d":"2013-09-04","w":8.6,"h":11},{"d":"2013-09-06","w":4.5,"h":8},{"d":"2013-09-08","w":5.1,"h":9},{"d":"2013-09-10","w":5,"h":10},{"d":"2013-09-12","w":10.2,"h":14},{"d":"2013-09-14","w":5.1,"h":14},{"d":"2013-09-16","w":5,"h":9},{"d":"2013-09-18","w":6.7,"h":15},{"d":"2013-09-20","w":4,"h":11},{"d":"2013-09-22","w":2.8,"h":8},{"d":"2013-09-24","w":5,"h":15},{"d":"2013-09-26","w":5.1,"h":13},{"d":"2013-09-28","w":12,"h":15},{"d":"2013-09-30","w":7.7,"h":12},
{"d":"2013-10-02","w":7.1,"h":16},{"d":"2013-10-04","w":4.3,"h":13},{"d":"2013-10-06","w":2,"h":9},{"d":"2013-10-08","w":4.8,"h":9},{"d":"2013-10-10","w":4,"h":12},{"d":"2013-10-12","w":4.3,"h":8},{"d":"2013-10-14","w":5.1,"h":7},{"d":"2013-10-16","w":3.3,"h":6},{"d":"2013-10-18","w":6.5,"h":11},{"d":"2013-10-20","w":6.7,"h":10},{"d":"2013-10-22","w":6.7,"h":13},{"d":"2013-10-24","w":4.5,"h":8},{"d":"2013-10-26","w":4.5,"h":10},{"d":"2013-10-28","w":2.5,"h":4},{"d":"2013-10-30","w":4.5,"h":13},
{"d":"2013-11-01","w":13.2,"h":20},{"d":"2013-11-03","w":9,"h":17},{"d":"2013-11-05","w":9,"h":12},{"d":"2013-11-07","w":4.5,"h":11},{"d":"2013-11-09","w":7.2,"h":14},{"d":"2013-11-11","w":5,"h":9},{"d":"2013-11-13","w":0.3,"h":6},{"d":"2013-11-15","w":13,"h":15},{"d":"2013-11-17","w":10.7,"h":18},{"d":"2013-11-19","w":9,"h":14},{"d":"2013-11-21","w":9.8,"h":17},{"d":"2013-11-23","w":9,"h":15}
],
"x2013":[
{"d":"2013-01-02","h":9},{"d":"2013-01-04","h":9},{"d":"2013-01-06","h":7},{"d":"2013-01-08","h":7},{"d":"2013-01-10","h":8},{"d":"2013-01-12","h":6},{"d":"2013-01-14","h":4},{"d":"2013-01-16","h":8},{"d":"2013-01-18","h":14},{"d":"2013-01-20","h":12},{"d":"2013-01-22","h":8},{"d":"2013-01-24","h":13},{"d":"2013-01-26","h":13},{"d":"2013-01-28","h":14},{"d":"2013-01-30","h":12},
{"d":"2013-02-01","h":13},{"d":"2013-02-03","h":13},{"d":"2013-02-05","h":12},{"d":"2013-02-07","h":12},{"d":"2013-02-09","h":10},{"d":"2013-02-11","h":6},{"d":"2013-02-13","h":6},{"d":"2013-02-15","h":9},{"d":"2013-02-17","h":9},{"d":"2013-02-19","h":11},{"d":"2013-02-21","h":9},{"d":"2013-02-23","h":7},{"d":"2013-02-25","h":7},{"d":"2013-02-27","h":9},
{"d":"2013-03-01","h":12},{"d":"2013-03-03","h":12},{"d":"2013-03-05","h":10},{"d":"2013-03-07","h":9},{"d":"2013-03-09","h":11},{"d":"2013-03-11","h":10},{"d":"2013-03-13","h":14},{"d":"2013-03-15","h":17},{"d":"2013-03-17","h":14},{"d":"2013-03-19","h":9},{"d":"2013-03-21","h":7},{"d":"2013-03-23","h":10},{"d":"2013-03-25","h":11},{"d":"2013-03-27","h":11},{"d":"2013-03-29","h":8},{"d":"2013-03-31","h":7},
{"d":"2013-04-02","h":6},{"d":"2013-04-04","h":9},{"d":"2013-04-06","h":13},{"d":"2013-04-08","h":15},{"d":"2013-04-10","h":11},{"d":"2013-04-12","h":10},{"d":"2013-04-14","h":10},{"d":"2013-04-16","h":11},{"d":"2013-04-18","h":12},{"d":"2013-04-20","h":9},{"d":"2013-04-22","h":7},{"d":"2013-04-24","h":9},{"d":"2013-04-26","h":12},{"d":"2013-04-28","h":13},{"d":"2013-04-30","h":10},
{"d":"2013-05-02","h":8},{"d":"2013-05-04","h":8},{"d":"2013-05-06","h":8},{"d":"2013-05-08","h":10},{"d":"2013-05-10","h":11},{"d":"2013-05-12","h":10},{"d":"2013-05-14","h":9},{"d":"2013-05-16","h":9},{"d":"2013-05-18","h":10},{"d":"2013-05-20","h":10},{"d":"2013-05-22","h":10},{"d":"2013-05-24","h":8},{"d":"2013-05-26","h":12},{"d":"2013-05-28","h":15},{"d":"2013-05-30","h":12},
{"d":"2013-06-01","h":9},{"d":"2013-06-03","h":12},{"d":"2013-06-05","h":14},{"d":"2013-06-07","h":10},{"d":"2013-06-09","h":9},{"d":"2013-06-11","h":9},{"d":"2013-06-13","h":9},{"d":"2013-06-15","h":8},{"d":"2013-06-17","h":8},{"d":"2013-06-19","h":8},{"d":"2013-06-21","h":7},{"d":"2013-06-23","h":6},{"d":"2013-06-25","h":5},{"d":"2013-06-27","h":6},{"d":"2013-06-29","h":7},
{"d":"2013-07-01","h":7},{"d":"2013-07-03","h":8},{"d":"2013-07-05","h":7},{"d":"2013-07-07","h":9},{"d":"2013-07-09","h":11},{"d":"2013-07-11","h":9},{"d":"2013-07-13","h":8},{"d":"2013-07-15","h":9},{"d":"2013-07-17","h":9},{"d":"2013-07-19","h":8},{"d":"2013-07-21","h":8},{"d":"2013-07-23","h":9},{"d":"2013-07-25","h":9},{"d":"2013-07-27","h":9},{"d":"2013-07-29","h":7},{"d":"2013-07-31","h":8},
{"d":"2013-08-02","h":9},{"d":"2013-08-04","h":8},{"d":"2013-08-06","h":8},{"d":"2013-08-08","h":9},{"d":"2013-08-10","h":8},{"d":"2013-08-12","h":6},{"d":"2013-08-14","h":6},{"d":"2013-08-16","h":9},{"d":"2013-08-18","h":10},{"d":"2013-08-20","h":12},{"d":"2013-08-22","h":9},{"d":"2013-08-24","h":7},{"d":"2013-08-26","h":8},{"d":"2013-08-28","h":7},{"d":"2013-08-30","h":8},
{"d":"2013-09-01","h":11},{"d":"2013-09-03","h":12},{"d":"2013-09-05","h":10},{"d":"2013-09-07","h":9},{"d":"2013-09-09","h":10},{"d":"2013-09-11","h":12},{"d":"2013-09-13","h":12},{"d":"2013-09-15","h":11},{"d":"2013-09-17","h":12},{"d":"2013-09-19","h":13},{"d":"2013-09-21","h":9},{"d":"2013-09-23","h":11},{"d":"2013-09-25","h":14},{"d":"2013-09-27","h":14},{"d":"2013-09-29","h":13},
{"d":"2013-10-01","h":14},{"d":"2013-10-03","h":15},{"d":"2013-10-05","h":11},{"d":"2013-10-07","h":9},{"d":"2013-10-09","h":10},{"d":"2013-10-11","h":10},{"d":"2013-10-13","h":8},{"d":"2013-10-15","h":7},{"d":"2013-10-17","h":9},{"d":"2013-10-19","h":10},{"d":"2013-10-21","h":12},{"d":"2013-10-23","h":11},{"d":"2013-10-25","h":9},{"d":"2013-10-27","h":7},{"d":"2013-10-29","h":8},{"d":"2013-10-31","h":15},
{"d":"2013-11-02","h":17},{"d":"2013-11-04","h":14},{"d":"2013-11-06","h":11},{"d":"2013-11-08","h":12},{"d":"2013-11-10","h":12},{"d":"2013-11-12","h":8},{"d":"2013-11-14","h":11},{"d":"2013-11-16","h":17},{"d":"2013-11-18","h":17},{"d":"2013-11-20","h":15},{"d":"2013-11-22","h":14},{"d":"2013-11-24","h":11}
],
"y2014":[
{"d":"2014-01-01","w":10.1,"h":13},{"d":"2014-01-03","w":10,"h":14},{"d":"2014-01-05","w":7.3,"h":14},{"d":"2014-01-07","w":12.5,"h":16},{"d":"2014-01-09","w":8,"h":12},{"d":"2014-01-11","w":5.8,"h":9},{"d":"2014-01-13","w":5.1,"h":8},{"d":"2014-01-15","w":7.9,"h":11},{"d":"2014-01-17","w":6,"h":11},{"d":"2014-01-19","w":3.5,"h":7},{"d":"2014-01-21","w":6.7,"h":9},{"d":"2014-01-23","w":8.5,"h":12},{"d":"2014-01-25","w":4.5,"h":10},{"d":"2014-01-27","w":10,"h":12},{"d":"2014-01-29","w":7.5,"h":13},{"d":"2014-01-31","w":9.3,"h":11},
{"d":"2014-02-02","w":6.2,"h":10},{"d":"2014-02-04","w":10,"h":14},{"d":"2014-02-06","w":13.5,"h":18},{"d":"2014-02-08","w":10.1,"h":19},{"d":"2014-02-10","w":15.5,"h":20},{"d":"2014-02-12","w":8.5,"h":14},{"d":"2014-02-14","w":6,"h":9},{"d":"2014-02-16","w":9.3,"h":12},{"d":"2014-02-18","w":9.5,"h":13},{"d":"2014-02-20","w":6.9,"h":11},{"d":"2014-02-22","w":7,"h":14},{"d":"2014-02-24","w":6.2,"h":10},{"d":"2014-02-26","w":2,"h":5},{"d":"2014-02-28","w":6.5,"h":9},
{"d":"2014-03-02","w":3.6,"h":7},{"d":"2014-03-04","w":4,"h":8},{"d":"2014-03-06","w":4.1,"h":6},{"d":"2014-03-08","w":6.7,"h":11},{"d":"2014-03-10","w":8.8,"h":11},{"d":"2014-03-12","w":9.5,"h":12},{"d":"2014-03-14","w":7.5,"h":13},{"d":"2014-03-16","w":2.8,"h":7},{"d":"2014-03-18","w":2.5,"h":5},{"d":"2014-03-20","w":10.5,"h":14},{"d":"2014-03-22","w":4.2,"h":7},{"d":"2014-03-24","w":2.6,"h":6},{"d":"2014-03-26","w":6.7,"h":10},{"d":"2014-03-28","w":5,"h":9},{"d":"2014-03-30","w":4,"h":13},
{"d":"2014-04-01","w":3.8,"h":7},{"d":"2014-04-03","w":5,"h":13},{"d":"2014-04-05","w":10,"h":12},{"d":"2014-04-07","w":4.1,"h":8},{"d":"2014-04-09","w":7.5,"h":10},{"d":"2014-04-11","w":5.9,"h":9},{"d":"2014-04-13","w":3.5,"h":6},{"d":"2014-04-15","w":4,"h":8},{"d":"2014-04-17","w":1,"h":4},{"d":"2014-04-19","w":4,"h":7},{"d":"2014-04-21","w":6.5,"h":10},{"d":"2014-04-23","w":5.2,"h":8},{"d":"2014-04-25","w":6.6,"h":12},{"d":"2014-04-27","w":7.4,"h":13},{"d":"2014-04-29","w":10.9,"h":13},
{"d":"2014-05-01","w":5.5,"h":9},{"d":"2014-05-03","w":2.7,"h":6},{"d":"2014-05-05","w":2,"h":5},{"d":"2014-05-07","w":3.5,"h":6},{"d":"2014-05-09","w":3.3,"h":8},{"d":"2014-05-11","w":1.8,"h":6},{"d":"2014-05-13","w":7,"h":10},{"d":"2014-05-15","w":8.8,"h":11},{"d":"2014-05-17","w":2.8,"h":6},{"d":"2014-05-19","w":3.5,"h":7},{"d":"2014-05-21","w":3.5,"h":7},{"d":"2014-05-23","w":2.8,"h":5},{"d":"2014-05-25","w":3.8,"h":8},{"d":"2014-05-27","w":4.3,"h":12},{"d":"2014-05-29","w":5.4,"h":9},{"d":"2014-05-31","w":6.2,"h":8},
{"d":"2014-06-02","w":5.7,"h":7},{"d":"2014-06-04","w":5.6,"h":7},{"d":"2014-06-06","w":4.5,"h":7},{"d":"2014-06-08","w":3.4,"h":6},{"d":"2014-06-10","w":2.2,"h":5},{"d":"2014-06-12","w":3.5,"h":7},{"d":"2014-06-14","w":4.9,"h":7},{"d":"2014-06-16","w":6.8,"h":8},{"d":"2014-06-18","w":5.5,"h":7},{"d":"2014-06-20","w":5,"h":9},{"d":"2014-06-22","w":6.7,"h":9},{"d":"2014-06-24","w":2.5,"h":6},{"d":"2014-06-26","w":5.5,"h":9},{"d":"2014-06-28","w":2,"h":6},{"d":"2014-06-30","w":5.5,"h":9},
{"d":"2014-07-02","w":3,"h":7},{"d":"2014-07-04","w":6.8,"h":9},{"d":"2014-07-06","w":4.3,"h":8},{"d":"2014-07-08","w":4.5,"h":9},{"d":"2014-07-10","w":6.5,"h":9},{"d":"2014-07-12","w":2.5,"h":6},{"d":"2014-07-14","w":3.2,"h":9},{"d":"2014-07-16","w":2,"h":7},{"d":"2014-07-18","w":7.7,"h":11},{"d":"2014-07-20","w":9,"h":14},{"d":"2014-07-22","w":12.5,"h":14},{"d":"2014-07-24","w":7.4,"h":10},{"d":"2014-07-26","w":6.5,"h":9},{"d":"2014-07-28","w":7.5,"h":12},{"d":"2014-07-30","w":5.5,"h":8},
{"d":"2014-08-01","w":4.2,"h":10},{"d":"2014-08-03","w":2.8,"h":5},{"d":"2014-08-05","w":5,"h":9},{"d":"2014-08-07","w":6.5,"h":10},{"d":"2014-08-09","w":5.1,"h":7},{"d":"2014-08-11","w":4.3,"h":6},{"d":"2014-08-13","w":2.5,"h":5},{"d":"2014-08-15","w":4,"h":8},{"d":"2014-08-17","w":4.5,"h":7},{"d":"2014-08-19","w":5.3,"h":8},{"d":"2014-08-21","w":4.5,"h":8},{"d":"2014-08-23","w":5.1,"h":9},{"d":"2014-08-25","w":3.8,"h":6},{"d":"2014-08-27","w":5.7,"h":9},{"d":"2014-08-29","w":4.8,"h":11},{"d":"2014-08-31","w":4.8,"h":8},
{"d":"2014-09-02","w":1.7,"h":5},{"d":"2014-09-04","w":3.3,"h":6},{"d":"2014-09-06","w":2.8,"h":6},{"d":"2014-09-08","w":3.7,"h":7},{"d":"2014-09-10","w":7,"h":11},{"d":"2014-09-12","w":9.8,"h":15},{"d":"2014-09-14","w":3.6,"h":8},{"d":"2014-09-16","w":1.3,"h":4},{"d":"2014-09-18","w":5.1,"h":8},{"d":"2014-09-20","w":5.8,"h":9},{"d":"2014-09-22","w":8,"h":12},{"d":"2014-09-24","w":8.5,"h":15},{"d":"2014-09-26","w":9.3,"h":13},{"d":"2014-09-28","w":4.5,"h":10},{"d":"2014-09-30","w":8.2,"h":11},
{"d":"2014-10-02","w":4.5,"h":8},{"d":"2014-10-04","w":9,"h":12},{"d":"2014-10-06","w":9.5,"h":14},{"d":"2014-10-08","w":5.8,"h":9},{"d":"2014-10-10","w":10.5,"h":14},{"d":"2014-10-12","w":4.5,"h":11},{"d":"2014-10-14","w":3.8,"h":7},{"d":"2014-10-16","w":5.9,"h":10},{"d":"2014-10-18","w":5.9,"h":8},{"d":"2014-10-20","w":2.3,"h":5},{"d":"2014-10-22","w":3.5,"h":8},{"d":"2014-10-24","w":4.5,"h":9},{"d":"2014-10-26","w":8.4,"h":11},{"d":"2014-10-28","w":8,"h":12},{"d":"2014-10-30","w":4.8,"h":9},
{"d":"2014-11-01","w":4,"h":8},{"d":"2014-11-03","w":6.7,"h":11},{"d":"2014-11-05","w":6,"h":12},{"d":"2014-11-07","w":6,"h":15},{"d":"2014-11-09","w":11.5,"h":14},{"d":"2014-11-11","w":9.3,"h":18},{"d":"2014-11-13","w":6.5,"h":13},{"d":"2014-11-15","w":8.8,"h":14},{"d":"2014-11-17","w":12,"h":15},{"d":"2014-11-19","w":13.8,"h":16},{"d":"2014-11-21","w":9.8,"h":14},{"d":"2014-11-23","w":3,"h":10},{"d":"2014-11-25","w":4.5,"h":8},{"d":"2014-11-27","w":6,"h":12}
],
"x2014":[
{"d":"2014-01-02","h":13},{"d":"2014-01-04","h":13},{"d":"2014-01-06","h":14},{"d":"2014-01-08","h":14},{"d":"2014-01-10","h":11},{"d":"2014-01-12","h":9},{"d":"2014-01-14","h":10},{"d":"2014-01-16","h":12},{"d":"2014-01-18","h":9},{"d":"2014-01-20","h":8},{"d":"2014-01-22","h":11},{"d":"2014-01-24","h":11},{"d":"2014-01-26","h":12},{"d":"2014-01-28","h":12},{"d":"2014-01-30","h":12},
{"d":"2014-02-01","h":12},{"d":"2014-02-03","h":12},{"d":"2014-02-05","h":16},{"d":"2014-02-07","h":14},{"d":"2014-02-09","h":16},{"d":"2014-02-11","h":17},{"d":"2014-02-13","h":12},{"d":"2014-02-15","h":11},{"d":"2014-02-17","h":13},{"d":"2014-02-19","h":12},{"d":"2014-02-21","h":12},{"d":"2014-02-23","h":12},{"d":"2014-02-25","h":8},{"d":"2014-02-27","h":7},
{"d":"2014-03-01","h":8},{"d":"2014-03-03","h":9},{"d":"2014-03-05","h":7},{"d":"2014-03-07","h":9},{"d":"2014-03-09","h":12},{"d":"2014-03-11","h":12},{"d":"2014-03-13","h":11},{"d":"2014-03-15","h":9},{"d":"2014-03-17","h":6},{"d":"2014-03-19","h":12},{"d":"2014-03-21","h":11},{"d":"2014-03-23","h":7},{"d":"2014-03-25","h":9},{"d":"2014-03-27","h":9},{"d":"2014-03-29","h":10},{"d":"2014-03-31","h":9},
{"d":"2014-04-02","h":9},{"d":"2014-04-04","h":11},{"d":"2014-04-06","h":10},{"d":"2014-04-08","h":9},{"d":"2014-04-10","h":11},{"d":"2014-04-12","h":8},{"d":"2014-04-14","h":7},{"d":"2014-04-16","h":6},{"d":"2014-04-18","h":6},{"d":"2014-04-20","h":9},{"d":"2014-04-22","h":9},{"d":"2014-04-24","h":9},{"d":"2014-04-26","h":11},{"d":"2014-04-28","h":12},{"d":"2014-04-30","h":10},
{"d":"2014-05-02","h":8},{"d":"2014-05-04","h":6},{"d":"2014-05-06","h":6},{"d":"2014-05-08","h":7},{"d":"2014-05-10","h":7},{"d":"2014-05-12","h":9},{"d":"2014-05-14","h":10},{"d":"2014-05-16","h":8},{"d":"2014-05-18","h":6},{"d":"2014-05-20","h":6},{"d":"2014-05-22","h":6},{"d":"2014-05-24","h":6},{"d":"2014-05-26","h":9},{"d":"2014-05-28","h":9},{"d":"2014-05-30","h":9},
{"d":"2014-06-01","h":8},{"d":"2014-06-03","h":7},{"d":"2014-06-05","h":6},{"d":"2014-06-07","h":7},{"d":"2014-06-09","h":6},{"d":"2014-06-11","h":6},{"d":"2014-06-13","h":7},{"d":"2014-06-15","h":8},{"d":"2014-06-17","h":8},{"d":"2014-06-19","h":8},{"d":"2014-06-21","h":8},{"d":"2014-06-23","h":7},{"d":"2014-06-25","h":7},{"d":"2014-06-27","h":7},{"d":"2014-06-29","h":7},
{"d":"2014-07-01","h":9},{"d":"2014-07-03","h":9},{"d":"2014-07-05","h":9},{"d":"2014-07-07","h":9},{"d":"2014-07-09","h":9},{"d":"2014-07-11","h":9},{"d":"2014-07-13","h":9},{"d":"2014-07-15","h":9},{"d":"2014-07-17","h":9},{"d":"2014-07-19","h":12},{"d":"2014-07-21","h":14},{"d":"2014-07-23","h":12},{"d":"2014-07-25","h":11},{"d":"2014-07-27","h":11},{"d":"2014-07-29","h":10},{"d":"2014-07-31","h":9},
{"d":"2014-08-02","h":9},{"d":"2014-08-04","h":8},{"d":"2014-08-06","h":9},{"d":"2014-08-08","h":8},{"d":"2014-08-10","h":6},{"d":"2014-08-12","h":7},{"d":"2014-08-14","h":7},{"d":"2014-08-16","h":7},{"d":"2014-08-18","h":8},{"d":"2014-08-20","h":7},{"d":"2014-08-22","h":7},{"d":"2014-08-24","h":8},{"d":"2014-08-26","h":7},{"d":"2014-08-28","h":8},{"d":"2014-08-30","h":9},
{"d":"2014-09-01","h":7},{"d":"2014-09-03","h":6},{"d":"2014-09-05","h":6},{"d":"2014-09-07","h":7},{"d":"2014-09-09","h":9},{"d":"2014-09-11","h":14},{"d":"2014-09-13","h":11},{"d":"2014-09-15","h":6},{"d":"2014-09-17","h":7},{"d":"2014-09-19","h":9},{"d":"2014-09-21","h":11},{"d":"2014-09-23","h":14},{"d":"2014-09-25","h":14},{"d":"2014-09-27","h":12},{"d":"2014-09-29","h":11},
{"d":"2014-10-01","h":10},{"d":"2014-10-03","h":10},{"d":"2014-10-05","h":13},{"d":"2014-10-07","h":11},{"d":"2014-10-09","h":12},{"d":"2014-10-11","h":12},{"d":"2014-10-13","h":9},{"d":"2014-10-15","h":8},{"d":"2014-10-17","h":9},{"d":"2014-10-19","h":7},{"d":"2014-10-21","h":7},{"d":"2014-10-23","h":8},{"d":"2014-10-25","h":11},{"d":"2014-10-27","h":12},{"d":"2014-10-29","h":11},{"d":"2014-10-31","h":8},
{"d":"2014-11-02","h":9},{"d":"2014-11-04","h":11},{"d":"2014-11-06","h":14},{"d":"2014-11-08","h":15},{"d":"2014-11-10","h":15},{"d":"2014-11-12","h":14},{"d":"2014-11-14","h":14},{"d":"2014-11-16","h":15},{"d":"2014-11-18","h":14},{"d":"2014-11-20","h":15},{"d":"2014-11-22","h":12},{"d":"2014-11-24","h":8},{"d":"2014-11-26","h":10}
],
"m2011":[{"d":"2011-08-31"},{"d":"2011-09-05"}],
"m2012":[{"d":"2012-09-07"}],
"m2013":[{"d":"2013-08-11"}],
"m2014":[{"d":"2014-07-16"}],
"e2011":[{"d":"2011-08-18","v":14.38}],
"e2012":[{"d":"2012-08-31","v":14.46}],
"e2013":[{"d":"2013-07-18","v":12.08}]
},
"concat":[
{
"width":467,"height":418,
"layer":[
{"data":{"name":"y2011"},"mark":{"type":"line","strokeWidth":2.5,"interpolate":"monotone"},
"encoding":{"x":{"field":"d","type":"temporal","scale":{"domain":[{"year":2011,"month":1,"date":1},{"year":2011,"month":11,"date":28}],"range":[6,467]},
"axis":{"values":[{"year":2011,"month":1,"date":1},{"year":2011,"month":4,"date":1},{"year":2011,"month":7,"date":1},{"year":2011,"month":10,"date":1}],"labelExpr":"['jan','feb','mrt','apr','mei','jun','jul','aug','sep','okt','nov','dec'][month(datum.value)] + '-' + timeFormat(datum.value, '%y')","title":null,"grid":false,"tickSize":7,"labelFlush":false,"labelFont":"Liberation Sans","labelFontSize":26,"labelColor":"#000000","labelPadding":14}},
"y":{"field":"w","type":"quantitative","scale":{"domain":[0,20],"nice":false},"axis":{"values":[0,2,4,6,8,10,12,14,16,18,20],"title":"Windsnelheid (m/s)","titleFont":"Liberation Sans","titleFontSize":33,"titleFontWeight":"bold","titleColor":"#000000","titlePadding":5,"labelFont":"Liberation Sans","labelFontSize":26,"labelColor":"#000000","labelPadding":14,"tickSize":7,"grid":true,"offset":-6}},
"color":{"datum":"Etmaal Gemiddelde Windsnelheid","type":"nominal","scale":{"domain":["Etmaal Gemiddelde Windsnelheid","Hoogste uurgemiddelde windsnelheid","Monsterperiode"],"range":["#000000","#c00000","#4f81bd"]},
"legend":{"orient":"bottom","direction":"horizontal","title":null,"offset":16,"labelFont":"Lato","labelFontSize":25,"labelColor":"#222222","labelOffset":5,"labelLimit":800,"symbolSize":2704,"symbolStrokeWidth":2.5,"columnPadding":19,
"encode":{"symbols":{"update":{"shape":{"signal":"datum.value === 'Hoogste uurgemiddelde windsnelheid' ? 'diamond' : 'stroke'"},"size":{"signal":"datum.value === 'Hoogste uurgemiddelde windsnelheid' ? 40 : 2704"},"fill":{"signal":"datum.value === 'Hoogste uurgemiddelde windsnelheid' ? '#c00000' : 'transparent'"},"stroke":{"signal":"datum.value === 'Hoogste uurgemiddelde windsnelheid' ? 'transparent' : (datum.value === 'Monsterperiode' ? '#4f81bd' : '#000000')"},"strokeWidth":{"value":2.5},"opacity":{"value":1}}}}}}}},
{"data":{"values":[{}]},"mark":{"type":"rect","fillOpacity":0,"stroke":"#878787","strokeWidth":2},
"encoding":{"x":{"datum":{"year":2010,"month":10,"date":2,"hours":12},"type":"temporal","scale":{"domain":[{"year":2011,"month":1,"date":1},{"year":2011,"month":11,"date":28}],"range":[6,467]}},"x2":{"datum":{"year":2012,"month":1,"date":17,"hours":7}},
"y":{"datum":21.58,"type":"quantitative","scale":{"domain":[0,20],"nice":false}},"y2":{"datum":-3.44}}},
{"data":{"name":"y2011"},"mark":{"type":"point","shape":"diamond","filled":true,"size":30,"opacity":1},
"encoding":{"x":{"field":"d","type":"temporal","scale":{"domain":[{"year":2011,"month":1,"date":1},{"year":2011,"month":11,"date":28}],"range":[6,467]}},
"y":{"field":"h","type":"quantitative","scale":{"domain":[0,20],"nice":false}},
"color":{"datum":"Hoogste uurgemiddelde windsnelheid","type":"nominal","scale":{"domain":["Etmaal Gemiddelde Windsnelheid","Hoogste uurgemiddelde windsnelheid","Monsterperiode"],"range":["#000000","#c00000","#4f81bd"]}}}},
{"data":{"name":"x2011"},"mark":{"type":"point","shape":"diamond","filled":true,"size":30,"opacity":1},
"encoding":{"x":{"field":"d","type":"temporal","scale":{"domain":[{"year":2011,"month":1,"date":1},{"year":2011,"month":11,"date":28}],"range":[6,467]}},
"y":{"field":"h","type":"quantitative","scale":{"domain":[0,20],"nice":false}},
"color":{"datum":"Hoogste uurgemiddelde windsnelheid","type":"nominal","scale":{"domain":["Etmaal Gemiddelde Windsnelheid","Hoogste uurgemiddelde windsnelheid","Monsterperiode"],"range":["#000000","#c00000","#4f81bd"]}}}},
{"data":{"name":"m2011"},"mark":{"type":"rule","strokeWidth":2.5},
"encoding":{"x":{"field":"d","type":"temporal","scale":{"domain":[{"year":2011,"month":1,"date":1},{"year":2011,"month":11,"date":28}],"range":[6,467]}},
"color":{"datum":"Monsterperiode","type":"nominal","scale":{"domain":["Etmaal Gemiddelde Windsnelheid","Hoogste uurgemiddelde windsnelheid","Monsterperiode"],"range":["#000000","#c00000","#4f81bd"]}}}},
{"data":{"name":"e2011"},"mark":{"type":"point","shape":"M0,-1A0.213,1,0,1,1,0,1A0.213,1,0,1,1,0,-1Z","size":32400,"filled":false,"stroke":"#ffff00","strokeWidth":4,"opacity":1},
"encoding":{"x":{"field":"d","type":"temporal","scale":{"domain":[{"year":2011,"month":1,"date":1},{"year":2011,"month":11,"date":28}],"range":[6,467]}},
"y":{"field":"v","type":"quantitative","scale":{"domain":[0,20],"nice":false}}}}
]
},
{
"width":514,"height":418,
"layer":[
{"data":{"name":"y2012"},"mark":{"type":"line","strokeWidth":2.5,"interpolate":"monotone"},
"encoding":{"x":{"field":"d","type":"temporal","scale":{"domain":[{"year":2012,"month":1,"date":1},{"year":2012,"month":11,"date":28}]},
"axis":{"values":[{"year":2012,"month":1,"date":1},{"year":2012,"month":4,"date":1},{"year":2012,"month":7,"date":1},{"year":2012,"month":10,"date":1}],"labelExpr":"['jan','feb','mrt','apr','mei','jun','jul','aug','sep','okt','nov','dec'][month(datum.value)] + '-' + timeFormat(datum.value, '%y')","title":null,"grid":false,"tickSize":7,"labelFlush":false,"labelFont":"Liberation Sans","labelFontSize":26,"labelColor":"#000000","labelPadding":14}},
"y":{"field":"w","type":"quantitative","scale":{"domain":[0,20],"nice":false},"axis":{"values":[0,2,4,6,8,10,12,14,16,18,20],"title":null,"labelFont":"Liberation Sans","labelFontSize":26,"labelColor":"#000000","labelPadding":16,"tickSize":7,"grid":true}},
"color":{"datum":"Etmaal Gemiddelde Windsnelheid","type":"nominal","scale":{"domain":["Etmaal Gemiddelde Windsnelheid","Hoogste uurgemiddelde windsnelheid","Monsterperiode"],"range":["#000000","#c00000","#4f81bd"]}}}},
{"data":{"values":[{}]},"mark":{"type":"rect","fillOpacity":0,"stroke":"#878787","strokeWidth":2},
"encoding":{"x":{"datum":{"year":2011,"month":11,"date":16,"hours":3},"type":"temporal","scale":{"domain":[{"year":2012,"month":1,"date":1},{"year":2012,"month":11,"date":28}]}},"x2":{"datum":{"year":2013,"month":1,"date":12,"hours":21}},
"y":{"datum":21.58,"type":"quantitative","scale":{"domain":[0,20],"nice":false}},"y2":{"datum":-3.44}}},
{"data":{"name":"y2012"},"mark":{"type":"point","shape":"diamond","filled":true,"size":30,"opacity":1},
"encoding":{"x":{"field":"d","type":"temporal","scale":{"domain":[{"year":2012,"month":1,"date":1},{"year":2012,"month":11,"date":28}]}},
"y":{"field":"h","type":"quantitative","scale":{"domain":[0,20],"nice":false}},
"color":{"datum":"Hoogste uurgemiddelde windsnelheid","type":"nominal","scale":{"domain":["Etmaal Gemiddelde Windsnelheid","Hoogste uurgemiddelde windsnelheid","Monsterperiode"],"range":["#000000","#c00000","#4f81bd"]}}}},
{"data":{"name":"x2012"},"mark":{"type":"point","shape":"diamond","filled":true,"size":30,"opacity":1},
"encoding":{"x":{"field":"d","type":"temporal","scale":{"domain":[{"year":2012,"month":1,"date":1},{"year":2012,"month":11,"date":28}]}},
"y":{"field":"h","type":"quantitative","scale":{"domain":[0,20],"nice":false}},
"color":{"datum":"Hoogste uurgemiddelde windsnelheid","type":"nominal","scale":{"domain":["Etmaal Gemiddelde Windsnelheid","Hoogste uurgemiddelde windsnelheid","Monsterperiode"],"range":["#000000","#c00000","#4f81bd"]}}}},
{"data":{"name":"m2012"},"mark":{"type":"rule","strokeWidth":5},
"encoding":{"x":{"field":"d","type":"temporal","scale":{"domain":[{"year":2012,"month":1,"date":1},{"year":2012,"month":11,"date":28}]}},
"color":{"datum":"Monsterperiode","type":"nominal","scale":{"domain":["Etmaal Gemiddelde Windsnelheid","Hoogste uurgemiddelde windsnelheid","Monsterperiode"],"range":["#000000","#c00000","#4f81bd"]}}}},
{"data":{"name":"e2012"},"mark":{"type":"point","shape":"M0,-1A0.32,1,0,1,1,0,1A0.32,1,0,1,1,0,-1Z","size":33750,"filled":false,"stroke":"#ffff00","strokeWidth":4,"opacity":1},
"encoding":{"x":{"field":"d","type":"temporal","scale":{"domain":[{"year":2012,"month":1,"date":1},{"year":2012,"month":11,"date":28}]}},
"y":{"field":"v","type":"quantitative","scale":{"domain":[0,20],"nice":false}}}}
]
},
{
"width":472,"height":430,
"layer":[
{"data":{"name":"y2013"},"mark":{"type":"line","strokeWidth":2.5,"interpolate":"monotone"},
"encoding":{"x":{"field":"d","type":"temporal","scale":{"domain":[{"year":2013,"month":1,"date":1},{"year":2013,"month":11,"date":24}]},
"axis":{"values":[{"year":2013,"month":1,"date":1},{"year":2013,"month":4,"date":1},{"year":2013,"month":7,"date":1},{"year":2013,"month":10,"date":1}],"labelExpr":"['jan','feb','mrt','apr','mei','jun','jul','aug','sep','okt','nov','dec'][month(datum.value)] + '-' + timeFormat(datum.value, '%y')","title":null,"grid":false,"tickSize":9,"labelFlush":false,"labelFont":"Lato","labelFontSize":23,"labelColor":"#1a1a1a","labelPadding":13}},
"y":{"field":"w","type":"quantitative","scale":{"domain":[0,20],"nice":false},"axis":{"values":[0,2,4,6,8,10,12,14,16,18,20],"title":"Windsnelheid (m/s)","titleFont":"Lato","titleFontSize":24,"titleFontWeight":"bold","titleColor":"#000000","titlePadding":9,"labelFont":"Lato","labelFontSize":23,"labelColor":"#1a1a1a","labelPadding":13,"tickSize":9,"grid":true}},
"color":{"datum":"Etmaal Gemiddelde Windsnelheid","type":"nominal","scale":{"domain":["Etmaal Gemiddelde Windsnelheid","Hoogste uurgemiddelde windsnelheid","Monsterperiode"],"range":["#000000","#c00000","#4f81bd"]}}}},
{"data":{"values":[{}]},"mark":{"type":"rect","fillOpacity":0,"stroke":"#878787","strokeWidth":2},
"encoding":{"x":{"datum":{"year":2012,"month":10,"date":9,"hours":21},"type":"temporal","scale":{"domain":[{"year":2013,"month":1,"date":1},{"year":2013,"month":11,"date":24}]}},"x2":{"datum":{"year":2014,"month":1,"date":8}},
"y":{"datum":21.35,"type":"quantitative","scale":{"domain":[0,20],"nice":false}},"y2":{"datum":-3.02}}},
{"data":{"name":"y2013"},"mark":{"type":"point","shape":"diamond","filled":true,"size":30,"opacity":1},
"encoding":{"x":{"field":"d","type":"temporal","scale":{"domain":[{"year":2013,"month":1,"date":1},{"year":2013,"month":11,"date":24}]}},
"y":{"field":"h","type":"quantitative","scale":{"domain":[0,20],"nice":false}},
"color":{"datum":"Hoogste uurgemiddelde windsnelheid","type":"nominal","scale":{"domain":["Etmaal Gemiddelde Windsnelheid","Hoogste uurgemiddelde windsnelheid","Monsterperiode"],"range":["#000000","#c00000","#4f81bd"]}}}},
{"data":{"name":"x2013"},"mark":{"type":"point","shape":"diamond","filled":true,"size":30,"opacity":1},
"encoding":{"x":{"field":"d","type":"temporal","scale":{"domain":[{"year":2013,"month":1,"date":1},{"year":2013,"month":11,"date":24}]}},
"y":{"field":"h","type":"quantitative","scale":{"domain":[0,20],"nice":false}},
"color":{"datum":"Hoogste uurgemiddelde windsnelheid","type":"nominal","scale":{"domain":["Etmaal Gemiddelde Windsnelheid","Hoogste uurgemiddelde windsnelheid","Monsterperiode"],"range":["#000000","#c00000","#4f81bd"]}}}},
{"data":{"name":"m2013"},"mark":{"type":"rule","strokeWidth":5},
"encoding":{"x":{"field":"d","type":"temporal","scale":{"domain":[{"year":2013,"month":1,"date":1},{"year":2013,"month":11,"date":24}]}},
"color":{"datum":"Monsterperiode","type":"nominal","scale":{"domain":["Etmaal Gemiddelde Windsnelheid","Hoogste uurgemiddelde windsnelheid","Monsterperiode"],"range":["#000000","#c00000","#4f81bd"]}}}},
{"data":{"name":"e2013"},"mark":{"type":"point","shape":"M0,-1A0.763,1,0,1,1,0,1A0.763,1,0,1,1,0,-1Z","size":5580,"filled":false,"stroke":"#ffff00","strokeWidth":4,"opacity":1},
"encoding":{"x":{"field":"d","type":"temporal","scale":{"domain":[{"year":2013,"month":1,"date":1},{"year":2013,"month":11,"date":24}]}},
"y":{"field":"v","type":"quantitative","scale":{"domain":[0,20],"nice":false}}}}
]
},
{
"width":519,"height":430,
"layer":[
{"data":{"name":"y2014"},"mark":{"type":"line","strokeWidth":2.5,"interpolate":"monotone"},
"encoding":{"x":{"field":"d","type":"temporal","scale":{"domain":[{"year":2014,"month":1,"date":1},{"year":2014,"month":11,"date":27}],"range":[1,519]},
"axis":{"values":[{"year":2014,"month":1,"date":1},{"year":2014,"month":4,"date":1},{"year":2014,"month":7,"date":1},{"year":2014,"month":10,"date":1}],"labelExpr":"['jan','feb','mrt','apr','mei','jun','jul','aug','sep','okt','nov','dec'][month(datum.value)] + '-' + timeFormat(datum.value, '%y')","title":null,"grid":false,"tickSize":9,"labelFlush":false,"labelFont":"Lato","labelFontSize":23,"labelColor":"#1a1a1a","labelPadding":13}},
"y":{"field":"w","type":"quantitative","scale":{"domain":[0,20],"nice":false},"axis":{"values":[0,2,4,6,8,10,12,14,16,18,20],"title":null,"labelFont":"Lato","labelFontSize":23,"labelColor":"#1a1a1a","labelPadding":13,"tickSize":9,"grid":true,"offset":-1}},
"color":{"datum":"Etmaal Gemiddelde Windsnelheid","type":"nominal","scale":{"domain":["Etmaal Gemiddelde Windsnelheid","Hoogste uurgemiddelde windsnelheid","Monsterperiode"],"range":["#000000","#c00000","#4f81bd"]}}}},
{"data":{"values":[{}]},"mark":{"type":"rect","fillOpacity":0,"stroke":"#878787","strokeWidth":2},
"encoding":{"x":{"datum":{"year":2013,"month":11,"date":17,"hours":10},"type":"temporal","scale":{"domain":[{"year":2014,"month":1,"date":1},{"year":2014,"month":11,"date":27}],"range":[1,519]}},"x2":{"datum":{"year":2015,"month":1,"date":8}},
"y":{"datum":21.35,"type":"quantitative","scale":{"domain":[0,20],"nice":false}},"y2":{"datum":-3.02}}},
{"data":{"name":"y2014"},"mark":{"type":"point","shape":"diamond","filled":true,"size":30,"opacity":1},
"encoding":{"x":{"field":"d","type":"temporal","scale":{"domain":[{"year":2014,"month":1,"date":1},{"year":2014,"month":11,"date":27}],"range":[1,519]}},
"y":{"field":"h","type":"quantitative","scale":{"domain":[0,20],"nice":false}},
"color":{"datum":"Hoogste uurgemiddelde windsnelheid","type":"nominal","scale":{"domain":["Etmaal Gemiddelde Windsnelheid","Hoogste uurgemiddelde windsnelheid","Monsterperiode"],"range":["#000000","#c00000","#4f81bd"]}}}},
{"data":{"name":"x2014"},"mark":{"type":"point","shape":"diamond","filled":true,"size":30,"opacity":1},
"encoding":{"x":{"field":"d","type":"temporal","scale":{"domain":[{"year":2014,"month":1,"date":1},{"year":2014,"month":11,"date":27}],"range":[1,519]}},
"y":{"field":"h","type":"quantitative","scale":{"domain":[0,20],"nice":false}},
"color":{"datum":"Hoogste uurgemiddelde windsnelheid","type":"nominal","scale":{"domain":["Etmaal Gemiddelde Windsnelheid","Hoogste uurgemiddelde windsnelheid","Monsterperiode"],"range":["#000000","#c00000","#4f81bd"]}}}},
{"data":{"name":"m2014"},"mark":{"type":"rule","strokeWidth":4},
"encoding":{"x":{"field":"d","type":"temporal","scale":{"domain":[{"year":2014,"month":1,"date":1},{"year":2014,"month":11,"date":27}],"range":[1,519]}},
"color":{"datum":"Monsterperiode","type":"nominal","scale":{"domain":["Etmaal Gemiddelde Windsnelheid","Hoogste uurgemiddelde windsnelheid","Monsterperiode"],"range":["#000000","#c00000","#4f81bd"]}}}}
]
}
]
}
